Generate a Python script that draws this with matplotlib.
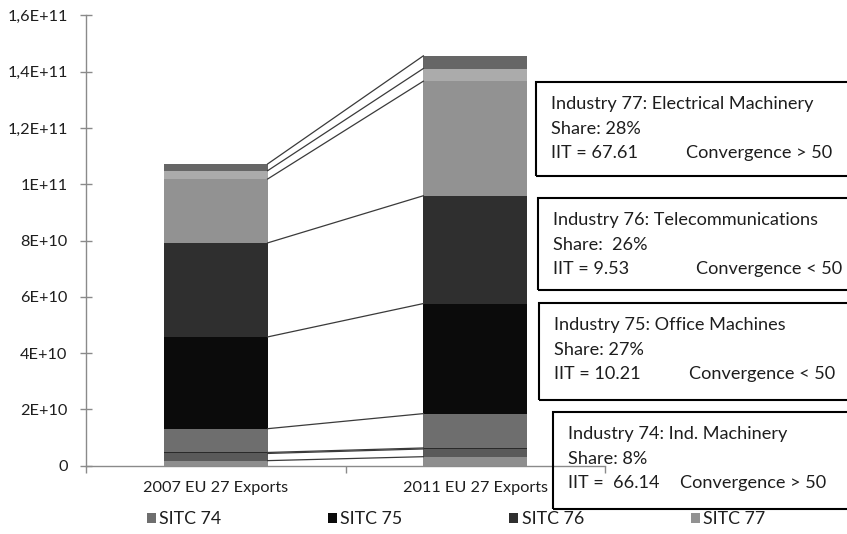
import matplotlib
matplotlib.use("Agg")
import matplotlib.pyplot as plt
from matplotlib.patches import Patch, Rectangle
from matplotlib.ticker import FixedLocator

plt.rcParams['font.family'] = ['Lato', 'DejaVu Sans']

# ============================= Data ============================= #
categories = ["2007 EU 27 Exports", "2011 EU 27 Exports"]

# stack order, bottom to top (only SITC 74-77 are in the legend)
low_a  = [1.8e9, 3.2e9]
low_b  = [2.55e9, 2.75e9]
low_c  = [0.35e9, 0.35e9]
sitc74 = [8.45e9, 1.22e10]
sitc75 = [3.26e10, 3.91e10]
sitc76 = [3.34e10, 3.83e10]
sitc77 = [2.27e10, 4.07e10]
top_a  = [2.95e9, 4.5e9]
top_b  = [2.4e9, 4.5e9]

series = [low_a, low_b, low_c, sitc74, sitc75, sitc76, sitc77, top_a, top_b]
series_names = [None, None, None, "SITC 74", "SITC 75", "SITC 76", "SITC 77", None, None]
colors = ["#8e8e8e", "#5a5a5a", "#2a2a2a", "#6e6e6e", "#0b0b0b",
          "#2f2f2f", "#929292", "#ababab", "#666666"]

y_ticks = [0, 2e10, 4e10, 6e10, 8e10, 1e11, 1.2e11, 1.4e11, 1.6e11]
y_labels = ["0", "2E+10", "4E+10", "6E+10", "8E+10", "1E+11", "1,2E+11", "1,4E+11", "1,6E+11"]

box_titles = ["Industry 77: Electrical Machinery", "Industry 76: Telecommunications",
              "Industry 75: Office Machines", "Industry 74: Ind. Machinery"]
box_shares = ["Share: 28%", "Share:  26%", "Share: 27%", "Share: 8%"]
box_iit = ["IIT = 67.61", "IIT = 9.53", "IIT = 10.21", "IIT =  66.14"]
box_conv = ["Convergence > 50", "Convergence < 50", "Convergence < 50", "Convergence > 50"]

# ============================= Layout (pixels) ============================= #
W, H = 847, 534
box_left = [536, 538, 539, 553]
box_top = [82, 198, 303, 412]
box_bottom = [176, 290, 400, 509]
conv_x = [686, 696, 689, 680]

TXT = "#1e1e1e"
AX = "#8a8a8a"
FS_TICK = 11.7
FS_LEG = 12.8
FS_BOX = 13.1

def fx(px):
    return px / W

def fy(py):
    return 1 - py / H

fig = plt.figure(figsize=(W / 100, H / 100), dpi=100)
ax = fig.add_axes([fx(86), fy(465.7), fx(605) - fx(86), fy(15.3) - fy(465.7)])

x = list(range(len(categories)))
bw = 0.4
bottom = [0.0, 0.0]
tops = []
for vals, col in zip(series, colors):
    ax.bar(x, vals, bw, bottom=bottom, color=col, linewidth=0, zorder=2)
    bottom = [b + v for b, v in zip(bottom, vals)]
    tops.append(list(bottom))

# series lines between the bars
for t in tops:
    ax.plot([x[0] + bw / 2, x[1] - bw / 2], t, color="#3a3a3a", lw=0.9, zorder=3)

ax.set_xlim(-0.5, 1.5)
ax.set_ylim(0, 1.6e11)
ax.set_yticks(y_ticks)
ax.set_yticklabels(y_labels)
ax.set_xticks(x)
ax.set_xticklabels(categories)
ax.xaxis.set_minor_locator(FixedLocator([-0.5, 0.5, 1.5]))

ax.tick_params(axis="y", direction="inout", length=8.5, width=1, color=AX,
               labelsize=FS_TICK, labelcolor=TXT, pad=9)
ax.tick_params(axis="x", which="major", length=0, labelsize=FS_TICK, labelcolor=TXT, pad=11)
ax.tick_params(axis="x", which="minor", direction="out", length=5, width=1, color=AX)

for s in ["top", "right"]:
    ax.spines[s].set_visible(False)
for s in ["left", "bottom"]:
    ax.spines[s].set_color(AX)
    ax.spines[s].set_linewidth(1)

# legend (only the four SITC groups)
handles = [Patch(facecolor=c, edgecolor="none", label=n)
           for c, n in zip(colors, series_names) if n is not None]
fig.legend(handles=handles, loc="center", bbox_to_anchor=(fx(456), fy(519)),
           ncol=4, frameon=False, fontsize=FS_LEG, handlelength=0.5, handleheight=0.5,
           handletextpad=0.2, columnspacing=6.0, labelcolor=TXT)

# annotation boxes on the right
for i in range(len(box_titles)):
    l, t, b = box_left[i], box_top[i], box_bottom[i]
    fig.patches.append(Rectangle((fx(l), fy(b)), fx(W + 10 - l), fy(t) - fy(b),
                                 transform=fig.transFigure, facecolor="none",
                                 edgecolor="black", lw=1.5))
    tx = l + 14.5
    y0 = t + 22
    fig.text(fx(tx), fy(y0), box_titles[i], fontsize=FS_BOX, color=TXT, va="center")
    fig.text(fx(tx), fy(y0 + 24.7), box_shares[i], fontsize=FS_BOX, color=TXT, va="center")
    fig.text(fx(tx), fy(y0 + 49.4), box_iit[i], fontsize=FS_BOX, color=TXT, va="center")
    fig.text(fx(conv_x[i]), fy(y0 + 49.4), box_conv[i], fontsize=FS_BOX, color=TXT, va="center")

fig.savefig("out.png", dpi=100)
